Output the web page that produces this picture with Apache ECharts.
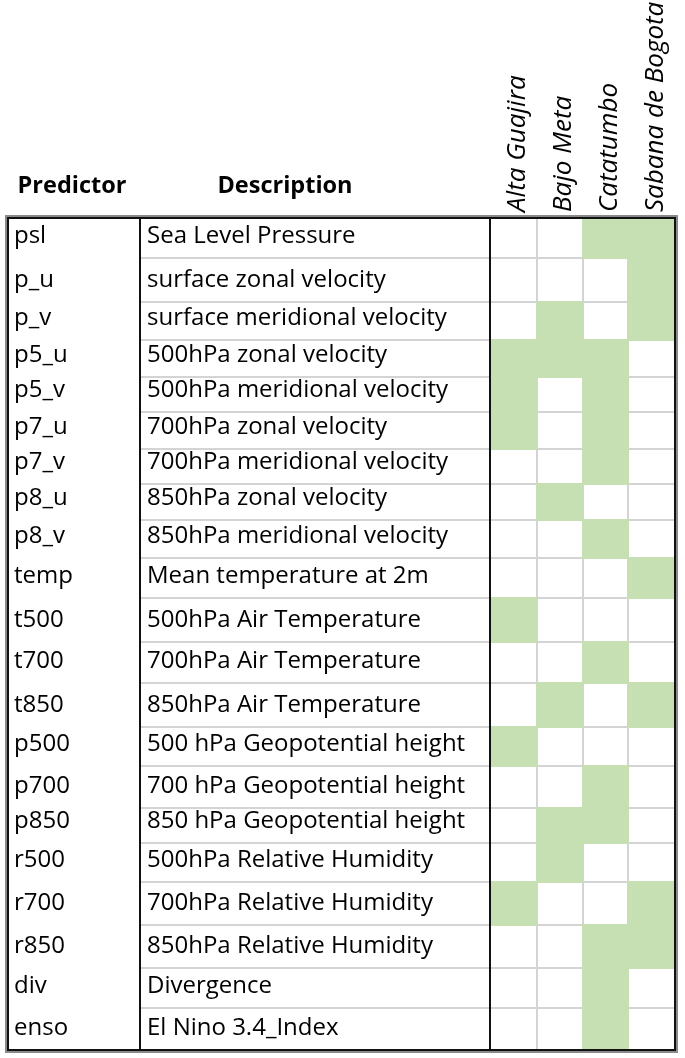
<!DOCTYPE html>
<html><head><meta charset="utf-8">
<script src="https://cdn.jsdelivr.net/npm/echarts@6/dist/echarts.min.js"></script>
<style>html,body{margin:0;padding:0;background:#fff}#c{width:685px;height:1058px}</style>
</head><body><div id="c"></div>
<script>
// ---- data ----
const predictors = ['psl','p_u','p_v','p5_u','p5_v','p7_u','p7_v','p8_u','p8_v','temp','t500','t700','t850','p500','p700','p850','r500','r700','r850','div','enso'];
const descriptions = ['Sea Level Pressure','surface zonal velocity','surface meridional velocity','500hPa zonal velocity','500hPa meridional velocity','700hPa zonal velocity','700hPa meridional velocity','850hPa zonal velocity','850hPa meridional velocity','Mean temperature at 2m','500hPa Air Temperature','700hPa Air Temperature','850hPa Air Temperature','500 hPa Geopotential height','700 hPa Geopotential height','850 hPa Geopotential height','500hPa Relative Humidity','700hPa Relative Humidity','850hPa Relative Humidity','Divergence','El Nino 3.4_Index'];
const headers = ['Predictor','Description'];
const regions = ['Alta Guajira','Bajo Meta','Catatumbo','Sabana de Bogota'];
const altaGuajira    = [0,0,0,1,1,1,0,0,0,0,1,0,0,1,0,0,0,1,0,0,0];
const bajoMeta       = [0,0,1,1,0,0,0,1,0,0,0,0,1,0,0,1,1,0,0,0,0];
const catatumbo      = [1,0,0,1,1,1,1,0,1,0,0,1,0,0,1,1,0,0,1,1,1];
const sabanaDeBogota = [1,1,1,0,0,0,0,0,0,1,0,0,1,0,0,0,0,1,1,0,0];
const selection = [altaGuajira, bajoMeta, catatumbo, sabanaDeBogota];

// ---- layout (not data) ----
const ROW_H = [40,44,38,37,35,37,35,36,38,40,44,41,44,39,42,35,39,43,43,40,42];
const COL_W = [132,350,47,46,45,47];
const ROW_E = [0]; ROW_H.forEach(h => ROW_E.push(ROW_E[ROW_E.length-1] + h));
const COL_E = [0]; COL_W.forEach(w => COL_E.push(COL_E[COL_E.length-1] + w));
const TOTAL_H = ROW_E[ROW_E.length-1], TOTAL_W = COL_E[COL_E.length-1];
const FONT = '"Open Sans", "DejaVu Sans", sans-serif';
const GREEN = '#c6e0b4', GRID = '#d4d4d4';

const cellData = [];
selection.forEach((arr, j) => arr.forEach((v, i) => { if (v) cellData.push([j, i]); }));

const chart = echarts.init(document.getElementById('c'), null, {renderer: 'canvas'});
chart.setOption({
  animation: false,
  backgroundColor: '#fff',
  grid: {left: 8, top: 218, width: TOTAL_W, height: TOTAL_H},
  xAxis: {type: 'value', min: 0, max: TOTAL_W, show: false},
  yAxis: {type: 'value', min: 0, max: TOTAL_H, inverse: true, show: false},
  series: [
    { // light grid lines
      type: 'custom', z: 1, silent: true, data: [[0]],
      renderItem: (params, api) => {
        const ch = [];
        for (let r = 1; r < ROW_E.length - 1; r++) {
          const a = api.coord([COL_E[1], ROW_E[r]]), b = api.coord([COL_E[6], ROW_E[r]]);
          ch.push({type: 'line', shape: {x1: a[0], y1: a[1], x2: b[0], y2: b[1]}, style: {stroke: GRID, lineWidth: 2}});
        }
        for (let c = 3; c <= 5; c++) {
          const a = api.coord([COL_E[c], 0]), b = api.coord([COL_E[c], TOTAL_H]);
          ch.push({type: 'line', shape: {x1: a[0], y1: a[1], x2: b[0], y2: b[1]}, style: {stroke: GRID, lineWidth: 2}});
        }
        return {type: 'group', children: ch};
      }
    },
    { // green cells
      type: 'custom', z: 2, silent: true, data: cellData,
      renderItem: (params, api) => {
        const j = api.value(0), i = api.value(1);
        const a = api.coord([COL_E[2 + j], ROW_E[i]]), b = api.coord([COL_E[3 + j], ROW_E[i + 1]]);
        return {type: 'rect', shape: {x: a[0] - 1, y: a[1] - 1, width: b[0] - a[0] + 2, height: b[1] - a[1] + 2}, style: {fill: GREEN}};
      }
    },
    { // row texts
      type: 'custom', z: 3, silent: true, data: predictors.map((p, i) => [i]),
      renderItem: (params, api) => {
        const i = api.value(0);
        const yb = ROW_E[i + 1] - 22;
        const p1 = api.coord([6, yb]), p2 = api.coord([COL_E[1] + 7, yb]);
        const st = {fontFamily: FONT, fontSize: 24, fill: '#000', textAlign: 'left', textVerticalAlign: 'middle'};
        return {type: 'group', children: [
          {type: 'text', x: p1[0], y: p1[1], style: Object.assign({text: predictors[i]}, st)},
          {type: 'text', x: p2[0], y: p2[1], style: Object.assign({text: descriptions[i]}, st)}
        ]};
      }
    },
    { // frame and dividers
      type: 'custom', z: 4, silent: true, data: [[0]],
      renderItem: (params, api) => {
        const tl = api.coord([0, 0]), br = api.coord([TOTAL_W, TOTAL_H]);
        const ch = [
          {type: 'rect', shape: {x: tl[0] - 1.5, y: tl[1] - 1.5, width: br[0] - tl[0] + 3, height: br[1] - tl[1] + 3}, style: {fill: 'none', stroke: '#8a8a8a', lineWidth: 3}},
          {type: 'rect', shape: {x: tl[0], y: tl[1], width: br[0] - tl[0], height: br[1] - tl[1]}, style: {fill: 'none', stroke: '#111', lineWidth: 2}}
        ];
        [1, 2].forEach(c => {
          const a = api.coord([COL_E[c], 0]), b = api.coord([COL_E[c], TOTAL_H]);
          ch.push({type: 'line', shape: {x1: a[0], y1: a[1], x2: b[0], y2: b[1]}, style: {stroke: '#111', lineWidth: 2}});
        });
        return {type: 'group', children: ch};
      }
    },
    { // column headers
      type: 'custom', z: 5, silent: true, clip: false,
      data: headers.map((h, k) => [k]).concat(regions.map((r, k) => [k + 2])),
      renderItem: (params, api) => {
        const k = api.value(0);
        if (k < 2) {
          const cx = k === 0 ? COL_E[0] + 64 : COL_E[1] + 145;
          const p = api.coord([cx, -32]);
          return {type: 'text', x: p[0], y: p[1], style: {text: headers[k], fontFamily: FONT, fontWeight: 'bold', fontSize: 23.5, fill: '#000', textAlign: 'center', textVerticalAlign: 'middle'}};
        }
        const j = k - 2;
        const cx = (COL_E[2 + j] + COL_E[3 + j]) / 2 + 4;
        const p = api.coord([cx, -6]);
        return {type: 'text', x: p[0], y: p[1], rotation: Math.PI / 2,
          style: {text: regions[j], fontFamily: FONT, fontStyle: 'italic', fontSize: 26, fill: '#000', textAlign: 'left', textVerticalAlign: 'middle'}};
      }
    }
  ]
});
</script></body></html>
